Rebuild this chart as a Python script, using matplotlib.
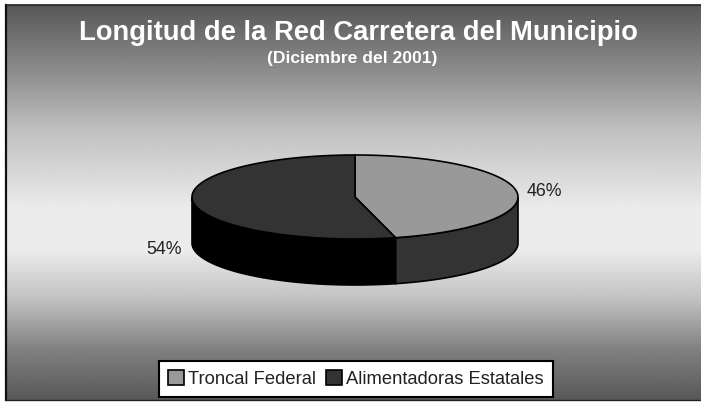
import numpy as np
import matplotlib
matplotlib.use('Agg')
import matplotlib.pyplot as plt
from matplotlib.patches import Polygon, Patch

plt.rcParams['font.family'] = ['Liberation Sans', 'DejaVu Sans']

# datos
categorias = ['Troncal Federal', 'Alimentadoras Estatales']
valores = [46, 54]
etiquetas = ['46%', '54%']
titulo = 'Longitud de la Red Carretera del Municipio'
subtitulo = '(Diciembre del 2001)'

colores_top = ['#999999', '#333333']
colores_lado = ['#333333', '#000000']

cx, cy = 355, 197   # centro de la elipse
rx, ry = 163, 42
alto = 46


def punto(ang, dy=0):
    # angulo en grados, desde las 12 en sentido horario
    a = np.radians(ang)
    return cx + rx * np.sin(a), cy - ry * np.cos(a) + dy


fig = plt.figure(figsize=(7.01, 4.04), dpi=100)
fig.patch.set_facecolor('white')
ax = fig.add_axes([0, 0, 1, 1])
ax.set_xlim(0, 701)
ax.set_ylim(404, 0)
ax.axis('off')

# fondo degradado
ys = np.arange(5, 401)
grad = np.interp(ys, [5, 75, 130, 210, 250, 300, 350, 400],
                 [88, 144, 192, 236, 236, 192, 128, 88])
ax.imshow(grad[:, None], cmap='gray', vmin=0, vmax=255, aspect='auto',
          extent=[6, 701, 400, 5], zorder=0)
ax.set_xlim(0, 701)
ax.set_ylim(404, 0)
ax.plot([6, 6], [5, 400], color='#111111', lw=1.6, zorder=1)
ax.plot([6, 701], [5, 5], color='#222222', lw=1.2, zorder=1)
ax.plot([6, 701], [400, 400], color='#222222', lw=1.0, zorder=1)

# rebanadas
total = sum(valores)
inicio = 0
for val, c_top, c_lado in zip(valores, colores_top, colores_lado):
    fin = inicio + 360 * val / total
    # pared lateral, solo la parte de enfrente (90 a 270)
    a0, a1 = max(inicio, 90), min(fin, 270)
    if a1 > a0:
        angs = np.linspace(a0, a1, 80)
        arriba = [punto(a) for a in angs]
        abajo = [punto(a, alto) for a in angs[::-1]]
        ax.add_patch(Polygon(arriba + abajo, closed=True, fc=c_lado,
                             ec='black', lw=1.2, zorder=2))
    inicio = fin

inicio = 0
for val, c_top in zip(valores, colores_top):
    fin = inicio + 360 * val / total
    angs = np.linspace(inicio, fin, 120)
    pts = [(cx, cy)] + [punto(a) for a in angs]
    ax.add_patch(Polygon(pts, closed=True, fc=c_top, ec='black', lw=1.2, zorder=3))
    inicio = fin

# etiquetas de porcentaje
ax.text(544, 191, etiquetas[0], fontsize=12.8, color='#222222', ha='center', va='center')
ax.text(164, 249, etiquetas[1], fontsize=12.8, color='#222222', ha='center', va='center')

# titulos
ax.text(358, 33, titulo, fontsize=19.7, fontweight='bold', color='white',
        ha='center', va='center')
ax.text(352, 59, subtitulo, fontsize=12.6, fontweight='bold', color='white',
        ha='center', va='center')

# leyenda
handles = [Patch(fc=c, ec='black', lw=1.2) for c in colores_top]
ley = ax.legend(handles, categorias, ncol=2, loc='center',
                bbox_to_anchor=(356 / 701, 1 - 379 / 404), fontsize=13.2,
                frameon=True, fancybox=False, framealpha=1, facecolor='white',
                edgecolor='black', labelcolor='#222222', handlelength=0.85,
                handleheight=0.85, handletextpad=0.25, columnspacing=0.55,
                borderpad=0.5)
ley.get_frame().set_linewidth(1.5)
ley.set_zorder(5)

plt.savefig('out.png', dpi=100)
